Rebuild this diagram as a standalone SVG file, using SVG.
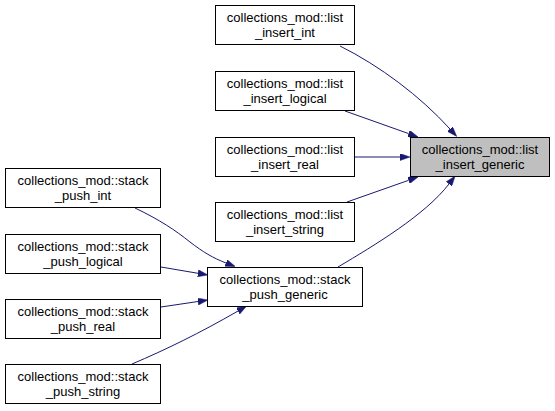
<svg xmlns="http://www.w3.org/2000/svg" width="555" height="411" viewBox="0 0 555 411">
<style>
.n rect{fill:#ffffff;stroke:#000000;stroke-width:1}
.n.main rect{fill:#bfbfbf}
.n text{font-family:"Liberation Sans",Arial,sans-serif;font-size:13px;fill:#000000;text-anchor:middle}
.e path{fill:none;stroke:#191970;stroke-width:1}
</style>
<defs>
<marker id="ah" viewBox="0 0 10 7" refX="0" refY="3.5" markerWidth="10" markerHeight="7" markerUnits="userSpaceOnUse" orient="auto">
<path d="M0,0 L10,3.5 L0,7 Z" fill="#191970" stroke="#191970" stroke-width="0.5"/>
</marker>
</defs>
<rect width="555" height="411" fill="#ffffff"/>
<g id="connectors" class="e">
<path d="M340,46 C380,66 420,96 450,129" marker-end="url(#ah)"/>
<path d="M345,111 L408.6,133.6" marker-end="url(#ah)"/>
<path d="M355,157 L400,157" marker-end="url(#ah)"/>
<path d="M347,202 L408.6,180.3" marker-end="url(#ah)"/>
<path d="M338,267 C375,245 425,215 449,184" marker-end="url(#ah)"/>
<path d="M135,208 C160,220 175,230 190,242 C203,252 213,258 226,263" marker-end="url(#ah)"/>
<path d="M161,267 L198,273.3" marker-end="url(#ah)"/>
<path d="M161,307 L198,301.5" marker-end="url(#ah)"/>
<path d="M132,364 C165,350 200,333 238,311" marker-end="url(#ah)"/>
</g>
<g id="list_insert_generic" class="n main">
<rect x="410.5" y="137.5" width="139" height="39"/>
<text x="480" y="154">collections_mod::list</text>
<text x="480" y="169">_insert_generic</text>
</g>
<g id="list_insert_int" class="n">
<rect x="215.5" y="5.5" width="139" height="39"/>
<text x="285" y="22">collections_mod::list</text>
<text x="285" y="37">_insert_int</text>
</g>
<g id="list_insert_logical" class="n">
<rect x="215.5" y="71.5" width="139" height="39"/>
<text x="285" y="88">collections_mod::list</text>
<text x="285" y="103">_insert_logical</text>
</g>
<g id="list_insert_real" class="n">
<rect x="215.5" y="137.5" width="139" height="39"/>
<text x="285" y="154">collections_mod::list</text>
<text x="285" y="169">_insert_real</text>
</g>
<g id="list_insert_string" class="n">
<rect x="215.5" y="202.5" width="139" height="39"/>
<text x="285" y="219">collections_mod::list</text>
<text x="285" y="234">_insert_string</text>
</g>
<g id="stack_push_generic" class="n">
<rect x="207.5" y="267.5" width="155" height="39"/>
<text x="285" y="284">collections_mod::stack</text>
<text x="285" y="299">_push_generic</text>
</g>
<g id="stack_push_int" class="n">
<rect x="5.5" y="168.5" width="155" height="39"/>
<text x="83" y="185">collections_mod::stack</text>
<text x="83" y="200">_push_int</text>
</g>
<g id="stack_push_logical" class="n">
<rect x="5.5" y="234.5" width="155" height="39"/>
<text x="83" y="251">collections_mod::stack</text>
<text x="83" y="266">_push_logical</text>
</g>
<g id="stack_push_real" class="n">
<rect x="5.5" y="299.5" width="155" height="39"/>
<text x="83" y="316">collections_mod::stack</text>
<text x="83" y="331">_push_real</text>
</g>
<g id="stack_push_string" class="n">
<rect x="5.5" y="364.5" width="155" height="39"/>
<text x="83" y="381">collections_mod::stack</text>
<text x="83" y="396">_push_string</text>
</g>
</svg>
